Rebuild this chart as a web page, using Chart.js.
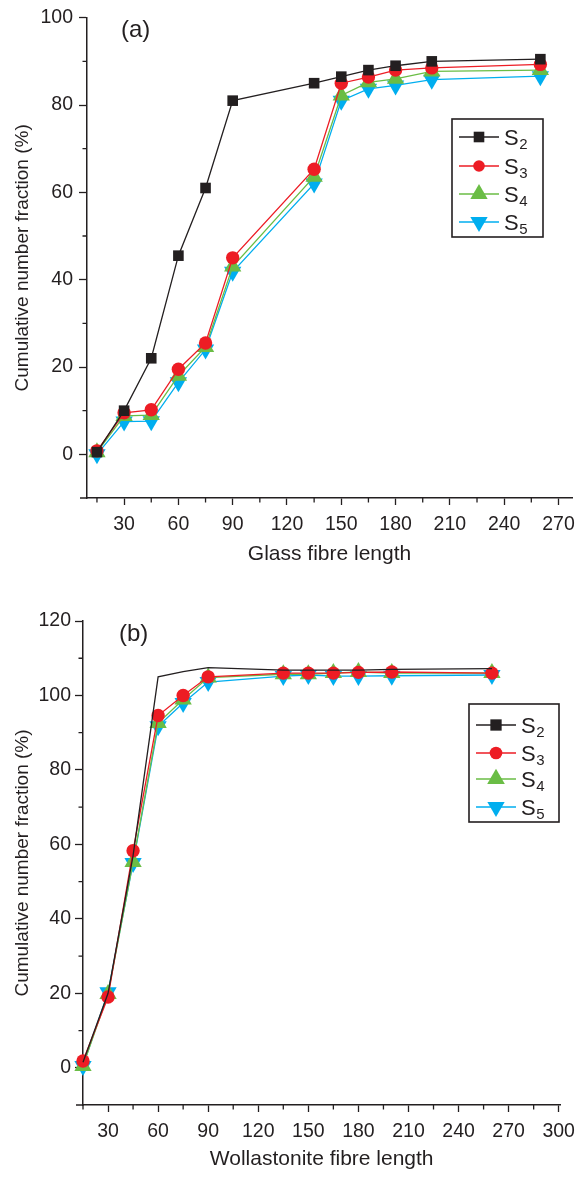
<!DOCTYPE html>
<html>
<head>
<meta charset="utf-8">
<script src="https://cdn.jsdelivr.net/npm/chart.js@4.4.1/dist/chart.umd.min.js"></script>
<style>
  html, body { margin: 0; padding: 0; background: #fff; }
  .panel { position: absolute; left: 0; width: 583px; height: 590px; }
  #panel-a { top: 0; }
  #panel-b { top: 590px; }
</style>
</head>
<body>
<div class="panel" id="panel-a"><canvas id="chart-a"></canvas></div>
<div class="panel" id="panel-b"><canvas id="chart-b"></canvas></div>
<script>
// fibre lengths where the cumulative fractions were measured
const lengths = [15, 30, 45, 60, 75, 90, 135, 150, 165, 180, 200, 260];

// (a) glass fibre
const glassS2 = [0.5, 10, 22, 45.5, 61, 81, 85, 86.5, 88, 89, 90, 90.5];
const glassS3 = [0.8, 9.5, 10.2, 19.5, 25.5, 45, 65.3, 85, 86.4, 88, 88.5, 89.3];
const glassS4 = [0.5, 8.8, 9, 18, 24.6, 43, 63.6, 82.2, 85.2, 86, 87.7, 88];
const glassS5 = [0, 7.5, 7.6, 16.5, 24, 41.8, 62, 81, 83.7, 84.5, 85.8, 86.6];

// (b) wollastonite fibre
const wollS2 = [1.5, 20, 57, 105, 106.4, 107.5, 106.8, 106.8, 106.8, 106.8, 107, 107.2];
const wollS3 = [1.8, 19, 58.3, 94.6, 100, 105, 106, 106, 106, 106.2, 106.3, 106];
const wollS4 = [0.5, 19.8, 55.3, 92.6, 98.9, 104.8, 105.7, 105.7, 106, 106.3, 106, 106];
const wollS5 = [0.5, 20.3, 55, 91.7, 98, 103.6, 105.2, 105.5, 105.2, 105.2, 105.3, 105.5];

// tick labels
const xTicksA = [30, 60, 90, 120, 150, 180, 210, 240, 270];
const xMinorA = [15, 45, 75, 105, 135, 165, 195, 225, 255];
const yTicksA = [0, 20, 40, 60, 80, 100];
const yMinorA = [10, 30, 50, 70, 90];
const xTicksB = [30, 60, 90, 120, 150, 180, 210, 240, 270, 300];
const xMinorB = [15, 45, 75, 105, 135, 165, 195, 225, 255, 285];
const yTicksB = [0, 20, 40, 60, 80, 100, 120];
const yMinorB = [10, 30, 50, 70, 90, 110];

const seriesNames = ['2', '3', '4', '5'];

const INK = '#231f20';
const COLORS = ['#231f20', '#ed1c24', '#6abd45', '#00aeef'];
const STYLES = ['rect', 'circle', 'triangle', 'triangle'];
const RADII = [7.5, 6.7, 10, 10];
const FONT = '"Liberation Sans", Arial, sans-serif';

function toPoints(values) {
    return lengths.map((x, i) => ({ x, y: values[i] }));
}

function makeDatasets(series, hideFirstMarkers) {
    return series.map((values, i) => ({
        label: 'S' + seriesNames[i],
        data: toPoints(values),
        borderColor: COLORS[i],
        backgroundColor: COLORS[i],
        borderWidth: 1.3,
        pointStyle: STYLES[i],
        pointRotation: i === 3 ? 180 : 0,
        pointRadius: (hideFirstMarkers && i === 0) ? 0 : RADII[i],
        pointBorderWidth: 0,
        pointHoverRadius: RADII[i],
        tension: 0,
        clip: false
    }));
}

function drawMarker(ctx, i, x, y, r) {
    ctx.fillStyle = COLORS[i];
    ctx.beginPath();
    if (i === 0) {
        const s = r * Math.SQRT1_2;
        ctx.rect(x - s, y - s, 2 * s, 2 * s);
    } else if (i === 1) {
        ctx.arc(x, y, r, 0, Math.PI * 2);
    } else {
        const d = i === 3 ? -1 : 1;
        ctx.moveTo(x, y - d * r);
        ctx.lineTo(x + r * 0.866, y + d * r / 2);
        ctx.lineTo(x - r * 0.866, y + d * r / 2);
        ctx.closePath();
    }
    ctx.fill();
}

// minor ticks, panel label and the boxed legend
const extras = {
    id: 'extras',
    afterDraw(chart, args, opts) {
        const { ctx, scales: { x, y } } = chart;
        ctx.save();
        ctx.strokeStyle = INK;
        ctx.lineWidth = 1.3;
        ctx.beginPath();
        opts.xMinor.forEach(v => {
            const px = x.getPixelForValue(v);
            ctx.moveTo(px, x.top);
            ctx.lineTo(px, x.top + 4.5);
        });
        opts.yMinor.forEach(v => {
            const py = y.getPixelForValue(v);
            ctx.moveTo(y.right - 4.5, py);
            ctx.lineTo(y.right, py);
        });
        ctx.stroke();

        // x axis runs a little past the y axis
        ctx.lineWidth = 1.5;
        ctx.beginPath();
        ctx.moveTo(x.left - 7, x.top);
        ctx.lineTo(x.left, x.top);
        ctx.stroke();

        ctx.fillStyle = INK;
        ctx.font = '24px ' + FONT;
        ctx.textBaseline = 'middle';
        ctx.textAlign = 'left';
        ctx.fillText(opts.panel, opts.panelX, opts.panelY);

        const lg = opts.legend;
        ctx.lineWidth = 1.6;
        ctx.strokeRect(lg.x, lg.y, lg.w, lg.h);
        lg.rows.forEach((ry, i) => {
            ctx.strokeStyle = COLORS[i];
            ctx.lineWidth = 1.5;
            ctx.beginPath();
            ctx.moveTo(lg.lineX0, ry);
            ctx.lineTo(lg.lineX1, ry);
            ctx.stroke();
            drawMarker(ctx, i, (lg.lineX0 + lg.lineX1) / 2, ry, lg.radii[i]);
            ctx.fillStyle = INK;
            ctx.textBaseline = 'alphabetic';
            ctx.font = '22px ' + FONT;
            ctx.fillText('S', lg.textX, ry + 8);
            const sw = ctx.measureText('S').width;
            ctx.font = '15px ' + FONT;
            ctx.fillText(seriesNames[i], lg.textX + sw + 0.5, ry + 11.5);
        });
        ctx.restore();
    }
};

function makeChart(canvasId, cfg) {
    const ctx = document.getElementById(canvasId).getContext('2d');
    return new Chart(ctx, {
        type: 'line',
        data: { datasets: cfg.datasets },
        plugins: [extras],
        options: {
            responsive: true,
            maintainAspectRatio: false,
            animation: false,
            layout: { padding: cfg.padding },
            plugins: {
                legend: { display: false },
                tooltip: { enabled: false },
                extras: cfg.extras
            },
            scales: {
                x: {
                    type: 'linear',
                    min: cfg.xMin,
                    max: cfg.xMax,
                    afterBuildTicks: scale => { scale.ticks = cfg.xTicks.map(v => ({ value: v })); },
                    afterFit: scale => { scale.height = cfg.xHeight; },
                    grid: { drawOnChartArea: false, drawTicks: true, tickLength: 7, tickColor: INK, tickWidth: 1.3 },
                    border: { display: true, color: INK, width: 1.5 },
                    ticks: { color: INK, font: { family: FONT, size: 19.5 }, padding: 8, maxRotation: 0, autoSkip: false },
                    title: { display: true, text: cfg.xTitle, color: INK, font: { family: FONT, size: 21 } }
                },
                y: {
                    type: 'linear',
                    min: cfg.yMin,
                    max: cfg.yMax,
                    afterBuildTicks: scale => { scale.ticks = cfg.yTicks.map(v => ({ value: v })); },
                    afterFit: scale => { scale.width = cfg.yWidth; },
                    grid: { drawOnChartArea: false, drawTicks: true, tickLength: 8, tickColor: INK, tickWidth: 1.3 },
                    border: { display: true, color: INK, width: 1.5 },
                    ticks: { color: INK, font: { family: FONT, size: 19.5 }, padding: cfg.yPad },
                    title: { display: true, text: 'Cumulative number fraction (%)', color: INK, font: { family: FONT, size: 19 } }
                }
            }
        }
    });
}

makeChart('chart-a', {
    datasets: makeDatasets([glassS2, glassS3, glassS4, glassS5], false),
    padding: { left: 7, top: 15, right: 1, bottom: 19 },
    xMin: 9.5, xMax: 277.5, yMin: -10, yMax: 100,
    xTicks: xTicksA, yTicks: yTicksA,
    xHeight: 73, yWidth: 80, yPad: 6,
    xTitle: 'Glass fibre length',
    extras: {
        xMinor: xMinorA, yMinor: yMinorA,
        panel: '(a)', panelX: 121, panelY: 30,
        legend: { x: 452, y: 119, w: 91, h: 118, rows: [137, 166, 194, 222],
                  lineX0: 459, lineX1: 499, textX: 504, radii: [7.5, 5.8, 10, 10] }
    }
});

makeChart('chart-b', {
    datasets: makeDatasets([wollS2, wollS3, wollS4, wollS5], true),
    padding: { left: 7, top: 31, right: 3, bottom: 4 },
    xMin: 15, xMax: 301, yMin: -10, yMax: 120,
    xTicks: xTicksB, yTicks: yTicksB,
    xHeight: 71, yWidth: 76, yPad: 4,
    xTitle: 'Wollastonite fibre length',
    extras: {
        xMinor: xMinorB, yMinor: yMinorB,
        panel: '(b)', panelX: 119, panelY: 44,
        legend: { x: 469, y: 114, w: 90, h: 118, rows: [135, 163, 189, 217],
                  lineX0: 476, lineX1: 516, textX: 521, radii: [8, 6.3, 10.2, 10] }
    }
});
</script>
</body>
</html>
